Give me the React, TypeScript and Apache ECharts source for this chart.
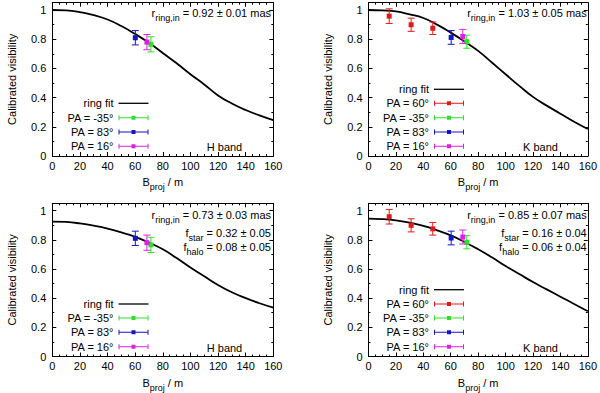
import React, { useEffect, useRef } from "react";
import * as echarts from "echarts";

// ---- data ----
const baselines = [0, 10, 20, 30, 40, 50, 60, 70, 80, 90, 100, 110, 120, 130, 140, 150, 160];
// ring fit curves
const fitHRing = [1.0, 0.997, 0.985, 0.965, 0.935, 0.89, 0.835, 0.775, 0.705, 0.635, 0.56, 0.49, 0.415, 0.36, 0.315, 0.278, 0.245];
const fitKRing = [1.0, 0.997, 0.99, 0.97, 0.945, 0.9, 0.845, 0.785, 0.72, 0.64, 0.56, 0.48, 0.405, 0.345, 0.29, 0.235, 0.185];
const fitHRingHalo = [0.925, 0.922, 0.912, 0.897, 0.877, 0.85, 0.82, 0.78, 0.735, 0.675, 0.61, 0.55, 0.49, 0.44, 0.4, 0.365, 0.335];
const fitKRingHalo = [0.945, 0.942, 0.933, 0.917, 0.895, 0.865, 0.83, 0.785, 0.735, 0.68, 0.62, 0.565, 0.51, 0.46, 0.41, 0.36, 0.31];

// observations: [baseline (m), visibility, error]
const hPaM35 = [[71.4, 0.765, 0.052]];
const hPa83 = [[60.1, 0.81, 0.049]];
const hPa16 = [[68.5, 0.78, 0.052]];
const kPa60 = [[15.1, 0.958, 0.05], [31.1, 0.899, 0.045], [46.9, 0.875, 0.043]];
const kPaM35 = [[71.7, 0.783, 0.045]];
const kPa83 = [[60.3, 0.812, 0.047]];
const kPa16 = [[68.8, 0.819, 0.048]];

const xTickInterval = 20;
const yTickInterval = 0.2;

const FONT = "'Liberation Sans', Arial, Helvetica, sans-serif";
const COLORS: Record<string, string> = {
  "PA = 60°": "#e01a1a",
  "PA = -35°": "#2ee02e",
  "PA = 83°": "#1414c8",
  "PA = 16°": "#e020e0",
};

const rich = {
  a: { fontSize: 11, fontFamily: FONT, color: "#000", lineHeight: 12, verticalAlign: "top" },
  s: { fontSize: 9, fontFamily: FONT, color: "#000", lineHeight: 9, padding: [6, 0, 0, 0], verticalAlign: "top" },
};

type Panel = {
  grid: { left: number; top: number; width: number; height: number };
  fit: number[];
  obs: { name: string; data: number[][] }[];
  texts: { text: string; right: number; y: number }[];
  band: { text: string; x: number; y: number };
  legendRows: number[];
  sampleEnd: number;
};

const panels: Panel[] = [
  {
    grid: { left: 52.3, top: 2.7, width: 221, height: 153.3 },
    fit: fitHRing,
    obs: [
      { name: "PA = -35°", data: hPaM35 },
      { name: "PA = 83°", data: hPa83 },
      { name: "PA = 16°", data: hPa16 },
    ],
    texts: [{ text: "{a|r}{s|ring,in}{a| = 0.92 ± 0.01 mas}", right: 271, y: 7.3 }],
    band: { text: "H band", x: 224.5, y: 147 },
    legendRows: [103.3, 117.7, 132, 146.3],
    sampleEnd: 148.5,
  },
  {
    grid: { left: 368.5, top: 2.7, width: 220.2, height: 153.3 },
    fit: fitKRing,
    obs: [
      { name: "PA = 60°", data: kPa60 },
      { name: "PA = -35°", data: kPaM35 },
      { name: "PA = 83°", data: kPa83 },
      { name: "PA = 16°", data: kPa16 },
    ],
    texts: [{ text: "{a|r}{s|ring,in}{a| = 1.03 ± 0.05 mas}", right: 586.7, y: 7.3 }],
    band: { text: "K band", x: 540.5, y: 146.7 },
    legendRows: [89.3, 103.3, 117.7, 132, 146.3],
    sampleEnd: 464,
  },
  {
    grid: { left: 52.3, top: 203.3, width: 221, height: 154.4 },
    fit: fitHRingHalo,
    obs: [
      { name: "PA = -35°", data: hPaM35 },
      { name: "PA = 83°", data: hPa83 },
      { name: "PA = 16°", data: hPa16 },
    ],
    texts: [
      { text: "{a|r}{s|ring,in}{a| = 0.73 ± 0.03 mas}", right: 271, y: 209 },
      { text: "{a|f}{s|star}{a| = 0.32 ± 0.05}", right: 271, y: 227.3 },
      { text: "{a|f}{s|halo}{a| = 0.08 ± 0.05}", right: 271, y: 241.7 },
    ],
    band: { text: "H band", x: 224.5, y: 348.3 },
    legendRows: [304, 318, 332.3, 346.7],
    sampleEnd: 148.5,
  },
  {
    grid: { left: 368.5, top: 203.3, width: 220.2, height: 154.4 },
    fit: fitKRingHalo,
    obs: [
      { name: "PA = 60°", data: kPa60 },
      { name: "PA = -35°", data: kPaM35 },
      { name: "PA = 83°", data: kPa83 },
      { name: "PA = 16°", data: kPa16 },
    ],
    texts: [
      { text: "{a|r}{s|ring,in}{a| = 0.85 ± 0.07 mas}", right: 586.7, y: 209 },
      { text: "{a|f}{s|star}{a| = 0.16 ± 0.04}", right: 586.7, y: 227.3 },
      { text: "{a|f}{s|halo}{a| = 0.06 ± 0.04}", right: 586.7, y: 241.7 },
    ],
    band: { text: "K band", x: 540.5, y: 348.3 },
    legendRows: [289.7, 304, 318, 332.3, 346.7],
    sampleEnd: 464,
  },
];

const errorBarRender = (color: string) => (params: any, api: any) => {
  const x = api.value(0);
  const y = api.value(1);
  const e = api.value(2);
  const c = api.coord([x, y]);
  const hi = api.coord([x, y + e]);
  const lo = api.coord([x, y - e]);
  const cw = 3.5;
  const s = 2.5;
  const st = { stroke: color, lineWidth: 1 };
  return {
    type: "group",
    children: [
      { type: "line", shape: { x1: c[0], y1: hi[1], x2: c[0], y2: lo[1] }, style: st },
      { type: "line", shape: { x1: c[0] - cw, y1: hi[1], x2: c[0] + cw, y2: hi[1] }, style: st },
      { type: "line", shape: { x1: c[0] - cw, y1: lo[1], x2: c[0] + cw, y2: lo[1] }, style: st },
      { type: "rect", shape: { x: c[0] - s, y: c[1] - s, width: 2 * s, height: 2 * s }, style: { fill: color } },
    ],
  };
};

const ERRBAR_ICON = "path://M0,2H30V3H0Z M0,0H1V5H0Z M29,0H30V5H29Z M13,0.5H17V4.5H13Z";

function buildOption() {
  const grid: any[] = [];
  const xAxis: any[] = [];
  const yAxis: any[] = [];
  const series: any[] = [];
  const legend: any[] = [];
  const graphic: any[] = [];

  const tickCommon = {
    axisLine: { show: true, onZero: false, lineStyle: { color: "#000", width: 1 } },
    axisTick: { show: true, inside: true, length: 4, lineStyle: { color: "#000", width: 1 } },
    splitLine: { show: false },
  };

  panels.forEach((p, g) => {
    grid.push({ ...p.grid, containLabel: false });
    const xBase = {
      type: "value",
      gridIndex: g,
      min: 0,
      max: 160,
      interval: xTickInterval,
      ...tickCommon,
      minorTick: { show: true, splitNumber: 4, length: 2, lineStyle: { color: "#000", width: 1 } },
    };
    xAxis.push({
      ...xBase,
      position: "bottom",
      axisLabel: { fontSize: 11, color: "#000", fontFamily: FONT, margin: 4 },
      name: "{a|B}{s|proj}{a| / m}",
      nameLocation: "middle",
      nameGap: 20.5,
      nameTextStyle: { rich },
    });
    xAxis.push({ ...xBase, position: "top", axisLabel: { show: false } });

    const yBase = {
      type: "value",
      gridIndex: g,
      min: 0,
      max: 1.05,
      interval: yTickInterval,
      ...tickCommon,
      minorTick: { show: true, splitNumber: 2, length: 2, lineStyle: { color: "#000", width: 1 } },
    };
    yAxis.push({
      ...yBase,
      position: "left",
      axisLabel: { fontSize: 11, color: "#000", fontFamily: FONT, margin: 6, showMaxLabel: false },
      name: "Calibrated visibility",
      nameLocation: "middle",
      nameGap: 35,
      nameTextStyle: { fontSize: 11, color: "#000", fontFamily: FONT },
    });
    yAxis.push({ ...yBase, position: "right", axisLabel: { show: false } });

    series.push({
      type: "line",
      name: "ring fit",
      xAxisIndex: 2 * g,
      yAxisIndex: 2 * g,
      data: baselines.map((b, i) => [b, p.fit[i]]),
      showSymbol: false,
      smooth: true,
      lineStyle: { color: "#000", width: 1.8 },
      itemStyle: { color: "#000" },
      z: 2,
    });
    p.obs.forEach((o) => {
      series.push({
        type: "custom",
        name: o.name,
        xAxisIndex: 2 * g,
        yAxisIndex: 2 * g,
        data: o.data,
        encode: { x: 0, y: 1 },
        renderItem: errorBarRender(COLORS[o.name]),
        itemStyle: { color: COLORS[o.name] },
        z: 3,
      });
    });

    const names = ["ring fit", ...p.obs.map((o) => o.name)];
    names.forEach((n, i) => {
      const isFit = n === "ring fit";
      legend.push({
        data: [n],
        orient: "horizontal",
        align: "right",
        right: 600 - p.sampleEnd,
        top: p.legendRows[i] - 6,
        padding: 0,
        itemGap: 0,
        itemWidth: 30,
        itemHeight: isFit ? 1.3 : 5,
        icon: isFit ? "rect" : ERRBAR_ICON,
        selectedMode: false,
        textStyle: { fontSize: 11, color: "#000", fontFamily: FONT, lineHeight: 12 },
      });
    });

    p.texts.forEach((t) => {
      graphic.push({
        type: "text",
        x: t.right,
        y: t.y,
        style: { text: t.text, rich, align: "right", verticalAlign: "top" },
      });
    });
    graphic.push({
      type: "text",
      x: p.band.x,
      y: p.band.y,
      style: {
        text: p.band.text,
        fontSize: 11,
        fontFamily: FONT,
        fill: "#000",
        align: "center",
        verticalAlign: "middle",
      },
    });
  });

  return {
    animation: false,
    backgroundColor: "#fff",
    textStyle: { fontFamily: FONT },
    grid,
    xAxis,
    yAxis,
    series,
    legend,
    graphic,
  };
}

export default function App() {
  const ref = useRef<HTMLDivElement>(null);
  useEffect(() => {
    if (!ref.current) return;
    const chart = echarts.init(ref.current, undefined, { renderer: "svg" });
    chart.setOption(buildOption() as any);
    return () => chart.dispose();
  }, []);
  return <div ref={ref} style={{ width: 600, height: 393, position: "absolute", left: 0, top: 0 }} />;
}
